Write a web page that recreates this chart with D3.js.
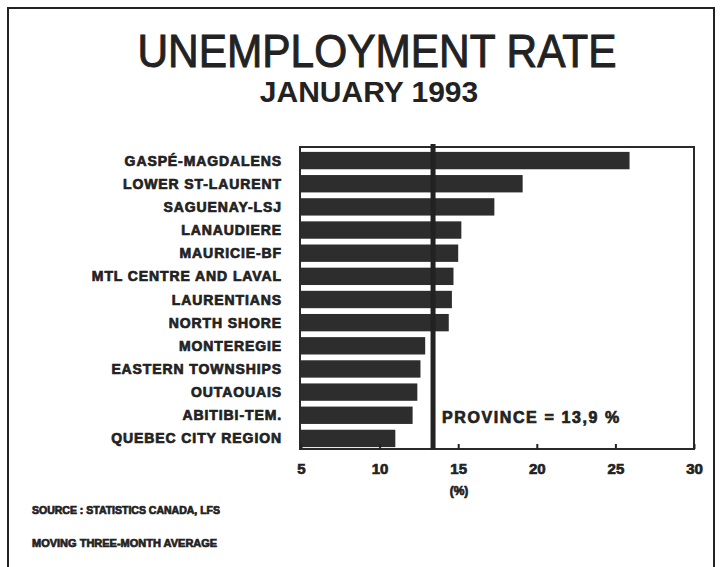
<!DOCTYPE html>
<html>
<head>
<meta charset="utf-8">
<script src="https://cdn.jsdelivr.net/npm/d3@7"></script>
<style>
  body { margin: 0; background: #fff; }
  text { font-family: "Liberation Sans", Arial, sans-serif; fill: #222; }
  .heavy { stroke: #222; stroke-width: 0.7; }
</style>
</head>
<body>
<div id="chart"></div>
<script>
// Regions, top to bottom as drawn
const regions = [
    "GASPÉ-MAGDALENS", "LOWER ST-LAURENT", "SAGUENAY-LSJ", "LANAUDIERE",
    "MAURICIE-BF", "MTL CENTRE AND LAVAL", "LAURENTIANS", "NORTH SHORE",
    "MONTEREGIE", "EASTERN TOWNSHIPS", "OUTAOUAIS", "ABITIBI-TEM.",
    "QUEBEC CITY REGION"
];

// Unemployment rate (%)
const rates = [25.9, 19.1, 17.3, 15.2, 15.0, 14.7, 14.6, 14.4, 12.9, 12.6, 12.4, 12.1, 11.0];

// Province reference line (position as drawn) and its label
const provinceLine = 13.4;
const provinceLabel = "PROVINCE = 13,9 %";

const xTicks = [5, 10, 15, 20, 25, 30];

const data = regions.map((r, i) => ({region: r, rate: rates[i]}));

const W = 727, H = 567;
const svg = d3.select("#chart").append("svg")
    .attr("width", W)
    .attr("height", H);

// outer frame of the page
svg.append("rect")
    .attr("x", 8).attr("y", 8)
    .attr("width", 706).attr("height", 600)
    .attr("fill", "none")
    .attr("stroke", "#222")
    .attr("stroke-width", 2);

// Titles
svg.append("text")
    .attr("x", 377).attr("y", 67)
    .attr("text-anchor", "middle")
    .attr("font-size", 47)
    .attr("textLength", 479)
    .attr("lengthAdjust", "spacingAndGlyphs")
    .attr("stroke", "#222")
    .attr("stroke-width", 1)
    .text("UNEMPLOYMENT RATE");

svg.append("text")
    .attr("x", 369).attr("y", 102)
    .attr("text-anchor", "middle")
    .attr("font-size", 30)
    .attr("font-weight", "bold")
    .text("JANUARY 1993");

// Plot area
const plot = {left: 300, right: 694, top: 147, bottom: 449};

const x = d3.scaleLinear()
    .domain([5, 30])
    .range([plot.left + 1, plot.right]);

const y = d3.scaleBand()
    .domain(regions)
    .range([plot.top + 2, plot.bottom + 1])
    .paddingInner(0.25)
    .paddingOuter(0.125);

// Bars
svg.selectAll(".bar")
    .data(data)
    .enter()
    .append("rect")
    .attr("class", "bar")
    .attr("x", x(5))
    .attr("y", d => y(d.region))
    .attr("width", d => x(d.rate) - x(5))
    .attr("height", y.bandwidth())
    .attr("fill", "#2d2d2d");

// Plot box
svg.append("rect")
    .attr("x", plot.left).attr("y", plot.top)
    .attr("width", plot.right - plot.left)
    .attr("height", plot.bottom - plot.top)
    .attr("fill", "none")
    .attr("stroke", "#2a2a2a")
    .attr("stroke-width", 2);

// Bottom axis: small inward ticks, bold labels
const xAxis = svg.append("g")
    .attr("transform", `translate(0,${plot.bottom})`)
    .call(d3.axisBottom(x).tickValues(xTicks).tickSize(-5).tickPadding(14).tickFormat(d3.format("d")));
xAxis.select(".domain").remove();
xAxis.selectAll("line").attr("stroke", "#222").attr("stroke-width", 2);
xAxis.selectAll("text")
    .attr("class", "heavy")
    .attr("font-size", 15)
    .attr("font-weight", "bold")
    .attr("font-family", "Liberation Sans, Arial, sans-serif")
    .attr("fill", "#222");

svg.append("text")
    .attr("class", "heavy")
    .attr("x", 459).attr("y", 495)
    .attr("text-anchor", "middle")
    .attr("font-size", 12)
    .attr("font-weight", "bold")
    .text("(%)");

// Province line
svg.append("line")
    .attr("x1", x(provinceLine)).attr("x2", x(provinceLine))
    .attr("y1", plot.top - 3).attr("y2", plot.bottom)
    .attr("stroke", "#222")
    .attr("stroke-width", 5);

svg.append("text")
    .attr("class", "heavy")
    .attr("x", 442).attr("y", 423)
    .attr("font-size", 16)
    .attr("font-weight", "bold")
    .attr("letter-spacing", 1.6)
    .text(provinceLabel);

// Region labels
svg.selectAll(".label")
    .data(data)
    .enter()
    .append("text")
    .attr("class", "label heavy")
    .attr("x", 282)
    .attr("y", d => y(d.region) + y.bandwidth() / 2 + 5)
    .attr("text-anchor", "end")
    .attr("font-size", 14)
    .attr("font-weight", "bold")
    .attr("letter-spacing", 0.9)
    .text(d => d.region);

// Footnotes
svg.append("text")
    .attr("class", "heavy")
    .attr("x", 32).attr("y", 514)
    .attr("font-size", 10.5)
    .attr("font-weight", "bold")
    .text("SOURCE : STATISTICS CANADA, LFS");

svg.append("text")
    .attr("class", "heavy")
    .attr("x", 32).attr("y", 547)
    .attr("font-size", 11)
    .attr("font-weight", "bold")
    .text("MOVING THREE-MONTH AVERAGE");
</script>
</body>
</html>
